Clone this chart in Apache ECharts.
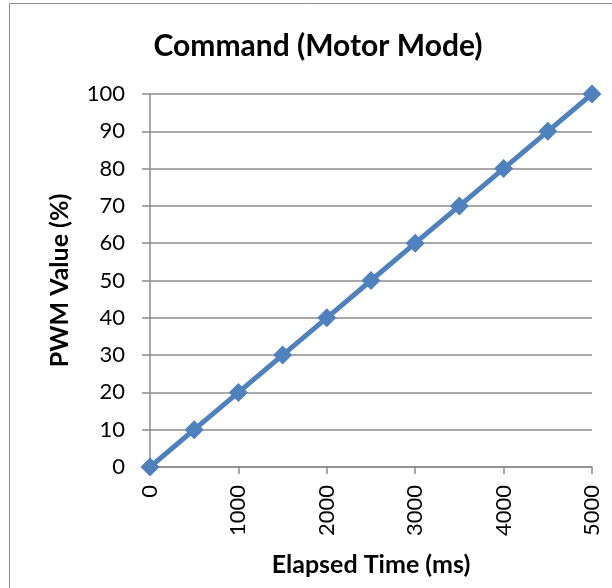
<!DOCTYPE html>
<html>
<head>
<meta charset="utf-8">
<script src="https://cdn.jsdelivr.net/npm/echarts@6/dist/echarts.min.js"></script>
<style>
  html, body { margin: 0; padding: 0; background: #fff; }
  #chart { width: 612px; height: 588px; }
</style>
</head>
<body>
<div id="chart"></div>
<script>
var elapsedMs = [0, 500, 1000, 1500, 2000, 2500, 3000, 3500, 4000, 4500, 5000];
var pwmValue = [0, 10, 20, 30, 40, 50, 60, 70, 80, 90, 100];

var font = "Lato, 'Open Sans', sans-serif";
var chart = echarts.init(document.getElementById("chart"));

var points = [];
for (var i = 0; i < elapsedMs.length; i++) {
  points.push([elapsedMs[i], pwmValue[i]]);
}

var option = {
  animation: false,
  graphic: [
    {
      type: "rect",
      shape: { x: 9.5, y: 3.5, width: 700, height: 700 },
      style: { fill: "none", stroke: "#8c8c8c", lineWidth: 1 }
    }
  ],
  title: {
    text: "Command (Motor Mode)",
    left: 313,
    top: 26,
    textAlign: "center",
    textStyle: { fontFamily: font, fontSize: 30, fontWeight: "bold", color: "#000" }
  },
  grid: { left: 150, right: 20, top: 94, bottom: 121 },
  xAxis: {
    type: "value",
    min: 0,
    max: 5000,
    interval: 1000,
    name: "Elapsed Time (ms)",
    nameLocation: "middle",
    nameGap: 85,
    nameTextStyle: { fontFamily: font, fontSize: 25, fontWeight: "bold", color: "#000" },
    axisLine: { show: true, lineStyle: { color: "#8c8c8c", width: 1.5 } },
    axisTick: { show: true, length: 7, lineStyle: { color: "#8c8c8c", width: 1.5 } },
    axisLabel: {
      rotate: 90,
      margin: 18,
      fontFamily: font,
      fontSize: 22,
      color: "#000",
      formatter: function (v) { return String(v); }
    },
    splitLine: { show: false }
  },
  yAxis: {
    type: "value",
    min: 0,
    max: 100,
    interval: 10,
    name: "PWM Value (%)",
    nameLocation: "middle",
    nameRotate: 90,
    nameGap: 78,
    nameTextStyle: { fontFamily: font, fontSize: 25, fontWeight: "bold", color: "#000" },
    axisLine: { show: true, lineStyle: { color: "#8c8c8c", width: 1.5 } },
    axisTick: { show: true, length: 8, lineStyle: { color: "#8c8c8c", width: 1.5 } },
    axisLabel: { margin: 25, fontFamily: font, fontSize: 22, color: "#000" },
    splitLine: { show: true, lineStyle: { color: "#8c8c8c", width: 1.5 } }
  },
  series: [
    {
      type: "line",
      data: points,
      symbol: "diamond",
      symbolSize: 19,
      lineStyle: { color: "#4f81bd", width: 5 },
      itemStyle: { color: "#4f81bd" }
    }
  ]
};

chart.setOption(option);
</script>
</body>
</html>
